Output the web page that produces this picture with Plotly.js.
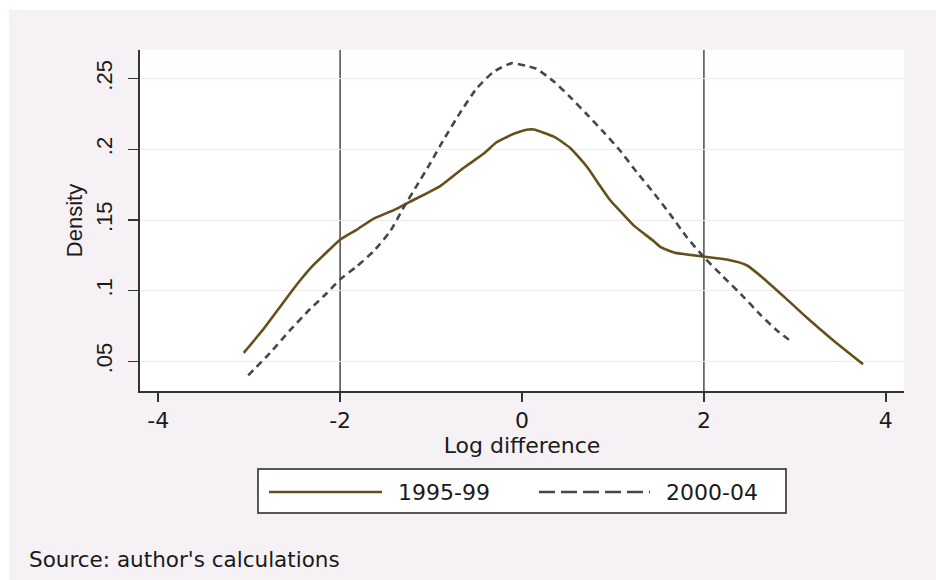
<!DOCTYPE html>
<html>
<head>
<meta charset="utf-8">
<script src="https://cdn.plot.ly/plotly-3.0.1.min.js"></script>
<style>
  html, body { margin: 0; padding: 0; background: #ffffff; }
  #bg { position: absolute; left: 9px; top: 10px; width: 927px; height: 570px; background: #f5f1f5; }
  #chart { position: absolute; left: 0; top: 0; width: 936px; height: 580px; }
</style>
</head>
<body>
<div id="bg"></div>
<div id="chart"></div>
<script>
// ---- data ----
const seriesNames = ['1995-99', '2000-04'];

const x1995 = [-3.06, -2.84, -2.62, -2.48, -2.31, -2.15, -2.0, -1.82, -1.63, -1.41, -1.23, -0.9, -0.64, -0.42, -0.28, -0.09, 0.07, 0.13, 0.35, 0.53, 0.71, 0.86, 0.97, 1.04, 1.23, 1.45, 1.52, 1.67, 2.01, 2.25, 2.47, 2.65, 2.91, 3.13, 3.42, 3.75];
const y1995 = [0.056, 0.073, 0.092, 0.104, 0.117, 0.127, 0.136, 0.143, 0.151, 0.157, 0.163, 0.174, 0.187, 0.197, 0.205, 0.211, 0.214, 0.214, 0.209, 0.201, 0.188, 0.174, 0.164, 0.159, 0.146, 0.135, 0.131, 0.127, 0.124, 0.122, 0.118, 0.109, 0.094, 0.081, 0.065, 0.048];

const x2000 = [-3.01, -2.77, -2.55, -2.33, -2.15, -2.0, -1.82, -1.63, -1.45, -1.30, -1.16, -1.01, -0.86, -0.68, -0.50, -0.31, -0.11, 0.05, 0.16, 0.35, 0.53, 0.71, 0.90, 1.08, 1.26, 1.45, 1.63, 1.81, 2.01, 2.21, 2.43, 2.62, 2.80, 2.98];
const y2000 = [0.040, 0.056, 0.072, 0.087, 0.098, 0.108, 0.117, 0.128, 0.142, 0.159, 0.174, 0.190, 0.207, 0.226, 0.243, 0.255, 0.261, 0.259, 0.257, 0.248, 0.237, 0.225, 0.212, 0.199, 0.184, 0.169, 0.154, 0.138, 0.123, 0.110, 0.096, 0.083, 0.072, 0.063];

const refLines = [-2, 2];

const xTickVals = [-4, -2, 0, 2, 4];
const xTickText = ['-4', '-2', '0', '2', '4'];
const yTickVals = [0.05, 0.10, 0.15, 0.20, 0.25];
const yTickText = ['.05', '.1', '.15', '.2', '.25'];

const xTitle = 'Log difference';
const yTitle = 'Density';
const sourceNote = "Source: author's calculations";

// ---- styling ----
const brown = '#65501a';
const dashGray = '#474747';
const axisColor = '#333333';
const M = { l: 140, r: 32, t: 50, b: 189 };
const W = 936, H = 580;
const PW = W - M.l - M.r, PH = H - M.t - M.b;
const px = v => (v - M.l) / PW;           // pixel -> paper x
const py = v => (H - M.b - v) / PH;       // pixel -> paper y

const traces = [
  { x: x1995, y: y1995, name: seriesNames[0], type: 'scatter', mode: 'lines',
    line: { color: brown, width: 2.6, shape: 'spline', smoothing: 0.5 } },
  { x: x2000, y: y2000, name: seriesNames[1], type: 'scatter', mode: 'lines',
    line: { color: dashGray, width: 2.6, dash: '7px,5px', shape: 'spline', smoothing: 0.5 } }
];

const shapes = refLines.map(v => ({
  type: 'line', xref: 'x', yref: 'paper', x0: v, x1: v, y0: 0, y1: 1,
  line: { color: '#4a4a4a', width: 1.5 }, layer: 'below'
}));

// manual legend (Stata-style box)
shapes.push({ type: 'rect', xref: 'paper', yref: 'paper',
  x0: px(258), x1: px(786), y0: py(513), y1: py(469),
  line: { color: '#222222', width: 1.5 }, fillcolor: '#ffffff' });
shapes.push({ type: 'line', xref: 'paper', yref: 'paper',
  x0: px(269), x1: px(382), y0: py(492), y1: py(492),
  line: { color: brown, width: 2.6 } });
shapes.push({ type: 'line', xref: 'paper', yref: 'paper',
  x0: px(539), x1: px(650), y0: py(492), y1: py(492),
  line: { color: dashGray, width: 2.6, dash: '16px,6px' } });

const legFont = { family: 'DejaVu Sans, sans-serif', size: 22, color: '#1a1a1a' };
const annotations = [
  { xref: 'paper', yref: 'paper', x: px(396), y: py(492), xanchor: 'left', yanchor: 'middle',
    text: seriesNames[0], showarrow: false, font: legFont },
  { xref: 'paper', yref: 'paper', x: px(664), y: py(492), xanchor: 'left', yanchor: 'middle',
    text: seriesNames[1], showarrow: false, font: legFont },
  { xref: 'paper', yref: 'paper', x: px(27), y: py(559), xanchor: 'left', yanchor: 'middle',
    text: sourceNote, showarrow: false,
    font: { family: 'DejaVu Sans, sans-serif', size: 21.5, color: '#1a1a1a' } }
];

const layout = {
  width: W, height: H,
  margin: M,
  paper_bgcolor: 'rgba(0,0,0,0)',
  plot_bgcolor: '#ffffff',
  showlegend: false,
  xaxis: {
    range: [-4.2, 4.2],
    tickmode: 'array', tickvals: xTickVals, ticktext: xTickText,
    showgrid: false, zeroline: false,
    showline: true, linecolor: axisColor, linewidth: 2,
    ticks: 'outside', ticklen: 9, tickwidth: 1.5, tickcolor: axisColor,
    ticklabelstandoff: 0,
    tickfont: { family: 'DejaVu Sans, sans-serif', size: 22, color: '#1a1a1a' },
    title: { text: xTitle, standoff: 0,
      font: { family: 'DejaVu Sans, sans-serif', size: 22, color: '#1a1a1a' } }
  },
  yaxis: {
    range: [0.029, 0.2703],
    tickmode: 'array', tickvals: yTickVals, ticktext: yTickText,
    tickangle: -90,
    showgrid: true, gridcolor: '#ede9ed', gridwidth: 1,
    zeroline: false,
    showline: true, linecolor: axisColor, linewidth: 2,
    ticks: 'outside', ticklen: 10, tickwidth: 1.5, tickcolor: axisColor,
    ticklabelstandoff: 7,
    tickfont: { family: 'Liberation Sans, Arial, sans-serif', size: 22, color: '#1a1a1a' },
    title: { text: yTitle, standoff: 4,
      font: { family: 'Liberation Sans, Arial, sans-serif', size: 22, color: '#1a1a1a' } }
  },
  shapes: shapes,
  annotations: annotations
};

Plotly.newPlot('chart', traces, layout, { displayModeBar: false, staticPlot: true });
</script>
</body>
</html>
